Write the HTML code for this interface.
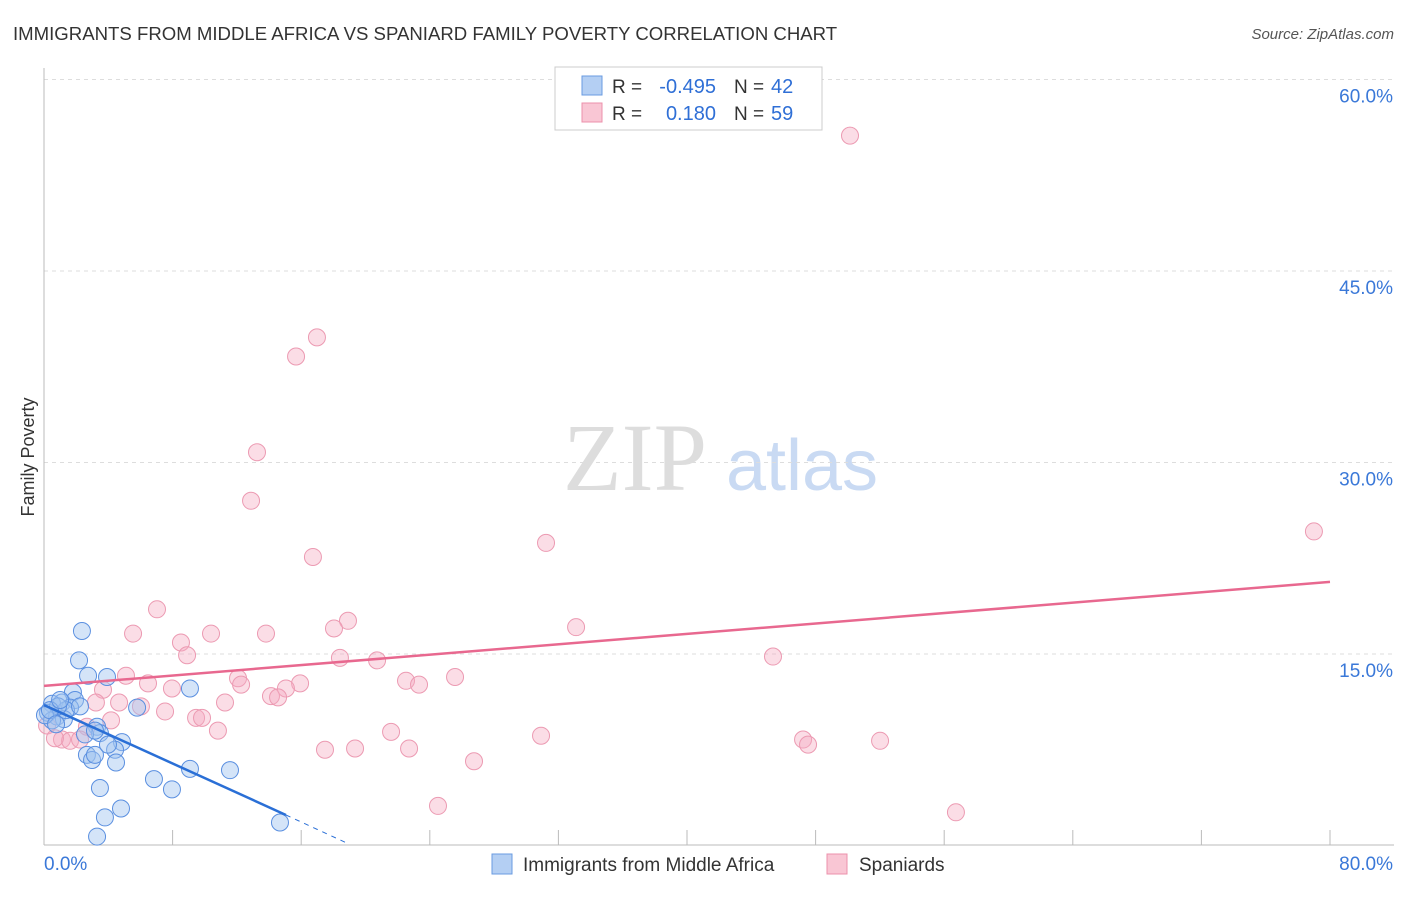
<!DOCTYPE html>
<html><head><meta charset="utf-8"><style>
body{margin:0;background:#fff;font-family:"Liberation Sans",sans-serif;}
svg text{font-family:"Liberation Sans",sans-serif;}
</style></head><body>
<svg id="chart" width="1406" height="892" xmlns="http://www.w3.org/2000/svg">
<text x="13" y="40" font-size="18.6" fill="#333">IMMIGRANTS FROM MIDDLE AFRICA VS SPANIARD FAMILY POVERTY CORRELATION CHART</text>
<text x="1394" y="39" font-size="15" fill="#555" text-anchor="end" font-style="italic">Source: ZipAtlas.com</text>
<text transform="translate(34,457) rotate(-90)" font-size="18" fill="#333" text-anchor="middle">Family Poverty</text>
<g>
<text x="635" y="490" font-size="96" fill="#ddd" text-anchor="middle" style="font-family:'Liberation Serif',serif">ZIP</text>
<text x="802" y="490" font-size="72" fill="#c9daf3" text-anchor="middle">atlas</text>
</g>
<g id="grid"></g><g id="axes"></g><g id="marks"></g>
<g>
<rect x="555" y="67" width="267" height="63" fill="#fff" stroke="#ccc"/>
<rect x="582" y="76" width="20" height="19" fill="#b4cff3" stroke="#6a9be0"/>
<rect x="582" y="103" width="20" height="19" fill="#f9c6d4" stroke="#ec90ab"/>
<text x="612" y="93" font-size="19" fill="#333">R =</text>
<text x="716" y="93" font-size="20" fill="#2f6fd6" text-anchor="end">-0.495</text>
<text x="734" y="93" font-size="19" fill="#333">N =</text>
<text x="771" y="93" font-size="20" fill="#2f6fd6">42</text>
<text x="612" y="120" font-size="19" fill="#333">R =</text>
<text x="716" y="120" font-size="20" fill="#2f6fd6" text-anchor="end">0.180</text>
<text x="734" y="120" font-size="19" fill="#333">N =</text>
<text x="771" y="120" font-size="20" fill="#2f6fd6">59</text>
</g>
<g>
<rect x="492" y="854" width="20" height="20" fill="#b4cff3" stroke="#6a9be0"/>
<text x="523" y="871" font-size="19" fill="#333">Immigrants from Middle Africa</text>
<rect x="827" y="854" width="20" height="20" fill="#f9c6d4" stroke="#ec90ab"/>
<text x="859" y="871" font-size="19" fill="#333">Spaniards</text>
</g>
</svg>
<script>
const blueX=[2.36,2.18,2.74,3.92,1.80,1.12,1.93,1.62,0.50,0.25,0.81,1.24,0.50,1.37,0.87,9.08,5.79,3.30,2.67,3.48,4.85,4.42,4.48,2.99,3.17,6.84,7.96,9.08,11.57,3.48,4.79,3.79,3.30,14.68,2.24,0.06,0.37,0.75,2.55,3.17,3.98,1.00];
const blueY=[16.8,14.5,13.3,13.2,12.0,11.2,11.4,10.8,11.1,10.4,10.1,9.9,9.8,10.6,10.9,12.3,10.8,9.3,7.1,8.8,8.1,7.5,6.5,6.7,7.1,5.2,4.4,6.0,5.9,4.5,2.9,2.2,0.7,1.8,10.9,10.2,10.6,9.5,8.7,9.0,7.9,11.4];
const pinkX=[50.14,16.98,15.68,13.25,12.88,16.73,31.23,79.0,7.03,18.91,18.04,33.1,5.54,10.39,13.81,8.52,8.90,18.41,20.72,45.35,5.10,6.47,7.96,12.07,12.26,15.93,15.05,25.57,22.52,23.33,3.67,11.26,14.12,14.56,3.23,4.67,6.03,7.53,9.46,9.83,4.17,2.67,10.82,21.59,30.92,47.22,47.53,52.01,17.48,19.35,22.71,26.75,24.51,56.73,1.12,1.62,2.24,0.19,0.68];
const pinkY=[55.6,39.8,38.3,30.8,27.0,22.6,23.7,24.6,18.5,17.6,17.0,17.1,16.6,16.6,16.6,15.9,14.9,14.7,14.5,14.8,13.3,12.7,12.3,13.1,12.6,12.7,12.3,13.2,12.9,12.6,12.2,11.2,11.7,11.6,11.2,11.2,10.9,10.5,10.0,10.0,9.8,9.3,9.0,8.9,8.6,8.3,7.9,8.2,7.5,7.6,7.6,6.6,3.1,2.6,8.3,8.2,8.3,9.4,8.4];
const yTicks=[15,30,45,60];
const yTickLabels=["15.0%","30.0%","45.0%","60.0%"];
const xTicks=[0,8,16,24,32,40,48,56,64,72,80];
const blueTrend=[[0,11.0],[15.05,2.39],[19.0,0.1]];
const pinkTrend=[[0,12.5],[80,20.65]];
const NS="http://www.w3.org/2000/svg";
const sx=v=>44+v*16.075, sy=v=>845.5-v*12.767;
function mk(p,t,a){const e=document.createElementNS(NS,t);for(const k in a)e.setAttribute(k,a[k]);p.appendChild(e);return e;}
const grid=document.getElementById('grid'),axes=document.getElementById('axes'),marks=document.getElementById('marks');
yTicks.forEach((t,i)=>{
 const l=mk(grid,'line',{x1:44,x2:1394,y1:sy(t),y2:sy(t),stroke:'#ddd','stroke-dasharray':'4,4'});
 
 
 const tx=mk(axes,'text',{x:1393,y:sy(t)+23,'font-size':19,fill:'#3a78d8','text-anchor':'end'});tx.textContent=yTickLabels[i];
 
 
});
mk(axes,'line',{x1:44,x2:44,y1:68,y2:845,stroke:'#bbb'});
mk(axes,'line',{x1:44,x2:1394,y1:845,y2:845,stroke:'#bbb'});
xTicks.forEach(t=>{const l=mk(axes,'line',{x1:sx(t),x2:sx(t),y1:830,y2:845,stroke:'#bbb'});
 
 });
const x0=mk(axes,'text',{x:44,y:870,'font-size':19,fill:'#3a78d8'});x0.textContent='0.0%';


const x1=mk(axes,'text',{x:1393,y:870,'font-size':19,fill:'#3a78d8','text-anchor':'end'});x1.textContent='80.0%';


pinkX.forEach((x,i)=>{const c=mk(marks,'circle',{cx:sx(x),cy:sy(pinkY[i]),r:8.5,fill:'rgba(246,170,193,0.4)',stroke:'#ec9ab2','stroke-width':1});
 
 });
blueX.forEach((x,i)=>{const c=mk(marks,'circle',{cx:sx(x),cy:sy(blueY[i]),r:8.5,fill:'rgba(160,195,240,0.45)',stroke:'#5a8fe0','stroke-width':1});
 
 });
const pt=mk(marks,'line',{x1:sx(pinkTrend[0][0]),y1:sy(pinkTrend[0][1]),x2:sx(pinkTrend[1][0]),y2:sy(pinkTrend[1][1]),stroke:'#e8688f','stroke-width':2.5});


const bt=mk(marks,'line',{x1:sx(blueTrend[0][0]),y1:sy(blueTrend[0][1]),x2:sx(blueTrend[1][0]),y2:sy(blueTrend[1][1]),stroke:'#2a6fd6','stroke-width':2.5});


const bd=mk(marks,'line',{x1:sx(blueTrend[1][0]),y1:sy(blueTrend[1][1]),x2:sx(blueTrend[2][0]),y2:sy(blueTrend[2][1]),stroke:'#2a6fd6','stroke-width':1,'stroke-dasharray':'5,5'});


</script>
</body></html>
